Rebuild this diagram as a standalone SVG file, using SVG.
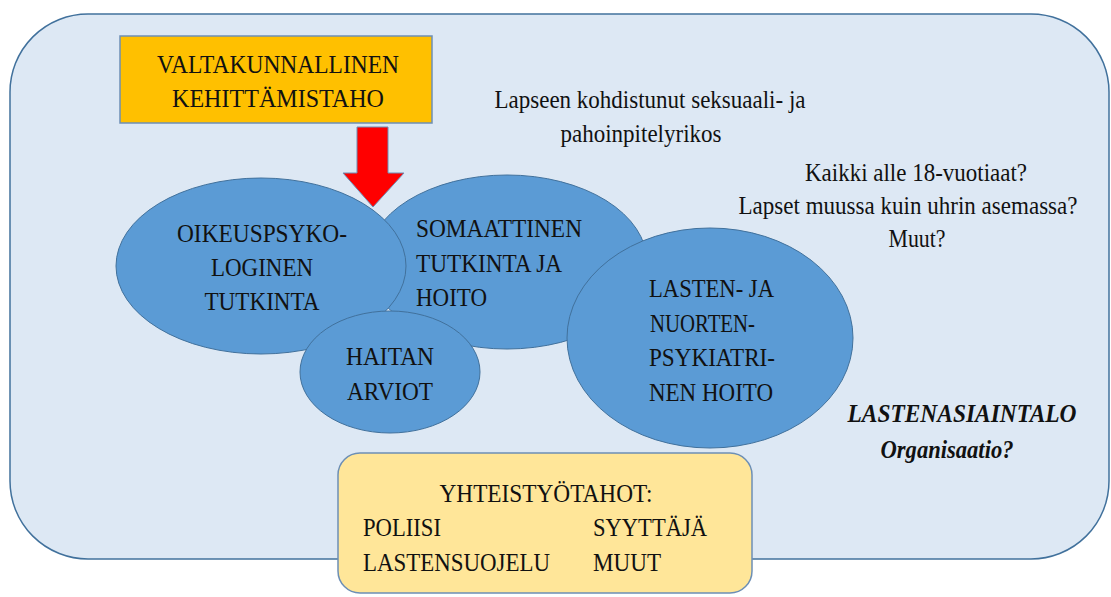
<svg xmlns="http://www.w3.org/2000/svg" width="1111" height="597" viewBox="0 0 1111 597">
<style>
.t{font-family:'Liberation Serif','Tinos','Times New Roman','DejaVu Serif','Noto Serif',serif;fill:#111;font-size:25px}
.c{text-anchor:middle}
.bi{font-weight:bold;font-style:italic}
.ell{fill:#5b9bd5;stroke:#41719c;stroke-width:1}
</style>
<rect width="1111" height="597" fill="#ffffff"/>
<g id="outer">
<rect x="10" y="14" width="1099" height="545" rx="78" ry="78" fill="#dde8f4" stroke="#41719c" stroke-width="1.5"/>
</g>
<g id="orange-box">
<rect x="120" y="36" width="312" height="87" fill="#ffc000" stroke="#6d8fb5" stroke-width="1.5"/>
<text class="t c" x="278" y="73" font-size="26" textLength="242" lengthAdjust="spacingAndGlyphs">VALTAKUNNALLINEN</text>
<text class="t c" x="278" y="107" font-size="26" textLength="212" lengthAdjust="spacingAndGlyphs">KEHITTÄMISTAHO</text>
</g>
<g id="connectors">
<polygon points="357,127 388,127 388,173 404,173 373,207 343,173 357,173" fill="#ff0000" stroke="#6d8fb5" stroke-width="1"/>
</g>
<g id="somaattinen">
<ellipse class="ell" cx="507" cy="262" rx="140" ry="87"/>
<text class="t" x="416" y="237" textLength="166" lengthAdjust="spacingAndGlyphs">SOMAATTINEN</text>
<text class="t" x="416" y="272" textLength="146" lengthAdjust="spacingAndGlyphs">TUTKINTA JA</text>
<text class="t" x="416" y="306" textLength="71" lengthAdjust="spacingAndGlyphs">HOITO</text>
</g>
<g id="oikeuspsykologinen">
<ellipse class="ell" cx="261" cy="266" rx="145" ry="88"/>
<text class="t c" x="262" y="242" textLength="170" lengthAdjust="spacingAndGlyphs">OIKEUSPSYKO-</text>
<text class="t c" x="262" y="276" textLength="102" lengthAdjust="spacingAndGlyphs">LOGINEN</text>
<text class="t c" x="262" y="310" textLength="115" lengthAdjust="spacingAndGlyphs">TUTKINTA</text>
</g>
<g id="lasten-nuorten">
<ellipse class="ell" cx="710" cy="338" rx="143" ry="110"/>
<text class="t" x="649" y="297" textLength="125" lengthAdjust="spacingAndGlyphs">LASTEN- JA</text>
<text class="t" x="650" y="332" textLength="105" lengthAdjust="spacingAndGlyphs">NUORTEN-</text>
<text class="t" x="649" y="366" textLength="126" lengthAdjust="spacingAndGlyphs">PSYKIATRI-</text>
<text class="t" x="649" y="401" textLength="124" lengthAdjust="spacingAndGlyphs">NEN HOITO</text>
</g>
<g id="haitan">
<ellipse class="ell" cx="390" cy="372" rx="90" ry="61"/>
<text class="t c" x="390" y="365" textLength="88" lengthAdjust="spacingAndGlyphs">HAITAN</text>
<text class="t c" x="390" y="400" textLength="86" lengthAdjust="spacingAndGlyphs">ARVIOT</text>
</g>
<g id="rikos-text">
<text class="t c" x="650" y="108" font-size="23" textLength="311" lengthAdjust="spacingAndGlyphs">Lapseen kohdistunut seksuaali- ja</text>
<text class="t c" x="641" y="142" font-size="23" textLength="161" lengthAdjust="spacingAndGlyphs">pahoinpitelyrikos</text>
</g>
<g id="kohderyhma-text">
<text class="t c" x="916" y="181" font-size="23" textLength="222" lengthAdjust="spacingAndGlyphs">Kaikki alle 18-vuotiaat?</text>
<text class="t c" x="908" y="214" font-size="23" textLength="339" lengthAdjust="spacingAndGlyphs">Lapset muussa kuin uhrin asemassa?</text>
<text class="t c" x="917" y="247" font-size="23" textLength="57" lengthAdjust="spacingAndGlyphs">Muut?</text>
</g>
<g id="lastenasiaintalo">
<text class="t c bi" x="962" y="422" font-size="24" textLength="229" lengthAdjust="spacingAndGlyphs">LASTENASIAINTALO</text>
<text class="t c bi" x="947" y="458" font-size="24" textLength="133" lengthAdjust="spacingAndGlyphs">Organisaatio?</text>
</g>
<g id="yhteistyotahot">
<rect x="338" y="453" width="414" height="140" rx="22" ry="22" fill="#ffe699" stroke="#6d8fb5" stroke-width="1.5"/>
<text class="t c" x="546" y="502" textLength="213" lengthAdjust="spacingAndGlyphs">YHTEISTYÖTAHOT:</text>
<text class="t" x="363" y="536" textLength="78" lengthAdjust="spacingAndGlyphs">POLIISI</text>
<text class="t" x="363" y="571" textLength="187" lengthAdjust="spacingAndGlyphs">LASTENSUOJELU</text>
<text class="t" x="593" y="536" textLength="114" lengthAdjust="spacingAndGlyphs">SYYTTÄJÄ</text>
<text class="t" x="593" y="571" textLength="68" lengthAdjust="spacingAndGlyphs">MUUT</text>
</g>
</svg>
